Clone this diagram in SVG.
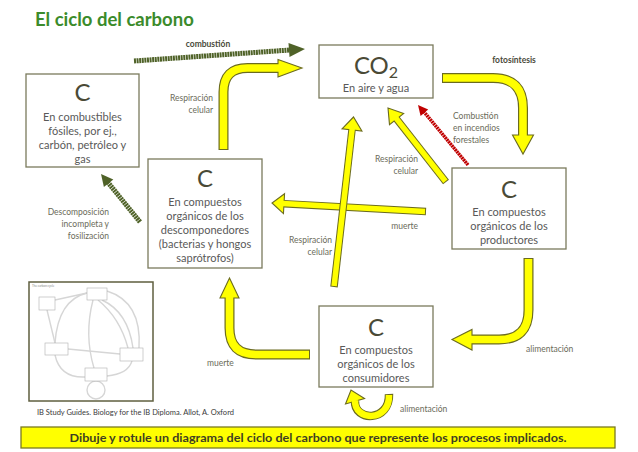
<svg xmlns="http://www.w3.org/2000/svg" width="638" height="452" viewBox="0 0 638 452">
<style>
text{font-family:Lato,"Liberation Sans",sans-serif}
.box{fill:#fff;stroke:#7a7a5c;stroke-width:1.3}
.big{font-size:24px;fill:#4a4a36;text-anchor:middle}
.bt{font-size:11px;fill:#595959;text-anchor:middle}
.lb{font-size:8.5px;fill:#6b6b5a}
.lbb{font-size:8.5px;fill:#4a4a3a;font-weight:bold}
.ao{fill:none;stroke:#6b6b1f}
.ai{fill:none;stroke:#ffff00}
.ah{fill:#ffff00;stroke:#6b6b1f;stroke-width:1.1;stroke-linejoin:miter}
.th{fill:none;stroke:#d6d6d6;stroke-width:1.4}
.tb{fill:#fff;stroke:#b0b0b0;stroke-width:0.6}
</style>
<rect width="638" height="452" fill="#fff"/>
<text x="35" y="26" font-size="18.5" font-weight="bold" fill="#3b8b2b">El ciclo del carbono</text>

<g id="connectors">
  <!-- combustion dark arrow -->
  <line x1="134" y1="61" x2="290" y2="50" stroke="#4f6228" stroke-width="5" stroke-dasharray="2 0.6"/>
  <polygon points="288.5,43 305,49 289.5,57" fill="#4f6228"/>
  <!-- descomposicion dark arrow -->
  <line x1="140" y1="222" x2="108" y2="182.5" stroke="#4f6228" stroke-width="5" stroke-dasharray="2 0.6"/>
  <polygon points="113.3,179.5 101,174 103.9,187.1" fill="#4f6228"/>
  <!-- red combustion -->
  <line x1="468" y1="165" x2="424" y2="112" stroke="#c00000" stroke-width="3.5" stroke-dasharray="2 0.6"/>
  <polygon points="428.2,109.5 418,105 420.6,115.9" fill="#c00000"/>

  <!-- respiracion top-left curved -->
  <path class="ao" stroke-width="10" d="M223.5,150 V92 Q223.5,68 247.5,68 H278"/>
  <polygon class="ah" points="278,59.5 302,68 278,77"/>
  <path class="ai" stroke-width="7.6" d="M223.5,149 V92 Q223.5,68 247.5,68 H279.5"/>

  <!-- fotosintesis curved -->
  <path class="ao" stroke-width="10" d="M442,78 H493 Q523,78 523,108 V135"/>
  <polygon class="ah" points="512.5,135 533.5,135 523,154"/>
  <path class="ai" stroke-width="7.6" d="M443,78 H493 Q523,78 523,108 V136.5"/>

  <!-- alimentacion producers -> consumers -->
  <path class="ao" stroke-width="10" d="M528.5,258 V310 Q528.5,339.5 499,339.5 H472"/>
  <polygon class="ah" points="472,329.5 472,350 452,339.5"/>
  <path class="ai" stroke-width="7.6" d="M528.5,259 V310 Q528.5,339.5 499,339.5 H470.5"/>

  <!-- muerte consumers -> decomposers -->
  <path class="ao" stroke-width="10" d="M310,354.5 H256 Q229.5,354.5 229.5,328 V298"/>
  <polygon class="ah" points="220,298 239,298 229.5,278"/>
  <path class="ai" stroke-width="7.6" d="M309,354.5 H256 Q229.5,354.5 229.5,328 V296.5"/>

  <!-- muerte producers -> decomposers (horizontal) -->
  <path class="ao" stroke-width="7.5" d="M426,211.5 L284,203.7"/>
  <polygon class="ah" points="284.55,193.7 272,203 283.45,213.6"/>
  <path class="ai" stroke-width="5.5" d="M425,211.45 L282.5,203.6"/>

  <!-- respiracion consumers -> CO2 (near vertical) -->
  <path class="ao" stroke-width="7.5" d="M334,287 L352,129.9"/>
  <polygon class="ah" points="361.9,131 353.5,117 342.1,128.8"/>
  <path class="ai" stroke-width="5.5" d="M334.1,286 L352.2,128.4"/>

  <!-- respiracion producers -> CO2 (diagonal) -->
  <path class="ao" stroke-width="7.5" d="M446,182 L396.6,119"/>
  <polygon class="ah" points="403.7,113.4 388,108 389.5,124.6"/>
  <path class="ai" stroke-width="5.5" d="M445.4,181.2 L395.4,117.4"/>

  <!-- alimentacion loop -->
  <path class="ao" stroke-width="8.5" d="M389,394 C390,422 354,422 355,401"/>
  <polygon class="ah" points="364.5,398.5 351,390 345.5,404"/>
  <path class="ai" stroke-width="6.5" d="M389,395 C390,422 354,422 355,400"/>
</g>

<g id="node-fosiles">
  <rect class="box" x="26" y="74" width="113" height="93"/>
  <text class="big" x="82.5" y="101">C</text>
  <text class="bt" x="82.5" y="121">En combustibles</text>
  <text class="bt" x="82.5" y="135">fósiles, por ej.,</text>
  <text class="bt" x="82.5" y="149">carbón, petróleo y</text>
  <text class="bt" x="82.5" y="163">gas</text>
</g>

<g id="node-descomponedores">
  <rect class="box" x="148" y="159" width="114" height="109"/>
  <text class="big" x="205" y="187">C</text>
  <text class="bt" x="205" y="206">En compuestos</text>
  <text class="bt" x="205" y="220">orgánicos de los</text>
  <text class="bt" x="205" y="234">descomponedores</text>
  <text class="bt" x="205" y="248">(bacterias y hongos</text>
  <text class="bt" x="205" y="262">saprótrofos)</text>
</g>

<g id="node-co2">
  <rect class="box" x="319" y="45" width="114" height="53"/>
  <text class="big" x="376" y="74">CO<tspan font-size="16" dy="4">2</tspan></text>
  <text class="bt" x="376" y="92">En aire y agua</text>
</g>

<g id="node-productores">
  <rect class="box" x="452" y="168" width="114" height="81"/>
  <text class="big" x="509" y="198">C</text>
  <text class="bt" x="509" y="216">En compuestos</text>
  <text class="bt" x="509" y="230">orgánicos de los</text>
  <text class="bt" x="509" y="244">productores</text>
</g>

<g id="node-consumidores">
  <rect class="box" x="319" y="306" width="114" height="81"/>
  <text class="big" x="376" y="336">C</text>
  <text class="bt" x="376" y="354">En compuestos</text>
  <text class="bt" x="376" y="368">orgánicos de los</text>
  <text class="bt" x="376" y="382">consumidores</text>
</g>

<g id="labels">
  <text class="lbb" x="208" y="47" text-anchor="middle">combustión</text>
  <text class="lb" x="213" y="101" text-anchor="end">Respiración</text>
  <text class="lb" x="213" y="113" text-anchor="end">celular</text>
  <text class="lbb" x="514" y="63" text-anchor="middle">fotosíntesis</text>
  <text class="lb" x="453" y="119">Combustión</text>
  <text class="lb" x="453" y="131">en incendios</text>
  <text class="lb" x="453" y="143">forestales</text>
  <text class="lb" x="418" y="162" text-anchor="end">Respiración</text>
  <text class="lb" x="418" y="174" text-anchor="end">celular</text>
  <text class="lb" x="109" y="215" text-anchor="end">Descomposición</text>
  <text class="lb" x="109" y="227" text-anchor="end">incompleta y</text>
  <text class="lb" x="109" y="239" text-anchor="end">fosilización</text>
  <text class="lb" x="418" y="229" text-anchor="end">muerte</text>
  <text class="lb" x="332" y="243" text-anchor="end">Respiración</text>
  <text class="lb" x="332" y="255" text-anchor="end">celular</text>
  <text class="lb" x="526" y="352">alimentación</text>
  <text class="lb" x="400" y="412">alimentación</text>
  <text class="lb" x="207" y="366">muerte</text>
</g>

<g id="thumbnail">
  <rect x="29" y="282" width="124" height="119" fill="#fff" stroke="#5f5f3f" stroke-width="1.5"/>
  <text x="32" y="287" font-size="3" fill="#888">The carbon cycle</text>
  <path class="th" d="M55,300 L87,293"/>
  <path class="th" d="M55,343 Q58,300 87,293"/>
  <path class="th" d="M107,291 Q142,302 139,348"/>
  <path class="th" d="M102,300 Q128,312 133,348"/>
  <path class="th" d="M98,300 Q120,318 128,348"/>
  <path class="th" d="M55,355 Q60,378 85,377"/>
  <path class="th" d="M107,376 Q128,374 132,361"/>
  <path class="th" d="M68,349 L120,354"/>
  <path class="th" d="M93,300 Q84,335 94,368"/>
  <path class="th" d="M47,310 L55,343"/>
  <circle class="th" cx="96" cy="390" r="9"/>
  <rect class="tb" x="87" y="288" width="20" height="12"/>
  <rect class="tb" x="39" y="297" width="16" height="13"/>
  <rect class="tb" x="45" y="343" width="23" height="12"/>
  <rect class="tb" x="120" y="348" width="23" height="13"/>
  <rect class="tb" x="85" y="368" width="22" height="13"/>
</g>

<text x="37" y="415" font-size="7.5" fill="#3a3a3a">IB Study Guides. Biology for the IB Diploma. Allot, A. Oxford</text>

<g id="task-bar">
  <rect x="21" y="427" width="594" height="21" fill="#ffff00" stroke="#7a7a20" stroke-width="1.3"/>
  <text x="318" y="442" font-size="11.5" font-weight="bold" fill="#3f3f22" text-anchor="middle" textLength="497" lengthAdjust="spacingAndGlyphs">Dibuje y rotule un diagrama del ciclo del carbono que represente los procesos implicados.</text>
</g>
</svg>
